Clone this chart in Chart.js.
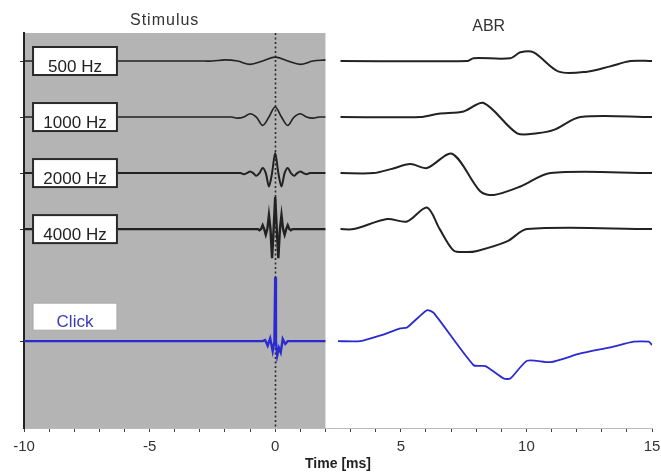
<!DOCTYPE html>
<html><head><meta charset="utf-8">
<script src="https://cdn.jsdelivr.net/npm/chart.js@4.4.1/dist/chart.umd.min.js"></script>
<style>html,body{margin:0;padding:0;background:#fff;}canvas{display:block;}</style>
</head><body>
<canvas id="c" width="661" height="476"></canvas>
<script>
// ---- tick / category data ----
const xMin = -10, xMax = 15, stimEnd = 2;
const xMajorStep = 5;
const yTickValues = [0, 2, 3, 4, 5];
const yMin = -1.55, yMax = 5.5;
const seriesNames = ['500 Hz', '1000 Hz', '2000 Hz', '4000 Hz', 'Click'];
const baselines = [5, 4, 3, 2, 0];
const panelTitles = ['Stimulus', 'ABR'];
const axisTitle = 'Time [ms]';

// ---- stimulus waveforms (time in ms, value in trace units) ----
const stimT500 = [-10, -3, -2.5, -2, -1.5, -1, -0.5, 0, 0.5, 1, 1.5, 2];
const stimY500 = [5, 5, 5, 5.02, 5, 4.94, 5, 5.07, 5, 4.94, 5, 5.02];

const stimT1000 = [-10, -2, -1.75, -1.5, -1.25, -1, -0.75, -0.5, -0.25, 0, 0.25, 0.5, 0.75, 1, 1.25, 1.5, 1.75, 2];
const stimY1000 = [4, 4, 4, 3.98, 4, 4.06, 4, 3.85, 4, 4.18, 4, 3.85, 4, 4.06, 4, 3.98, 4, 4];

const stimT2000 = [-10, -1.5, -1.375, -1.25, -1.125, -1, -0.875, -0.75, -0.625, -0.5, -0.375, -0.25, -0.125, 0, 0.125, 0.25, 0.375, 0.5, 0.625, 0.75, 0.875, 1, 1.125, 1.25, 1.375, 1.5, 2];
const stimY2000 = [3, 3, 3, 2.98, 3, 3.03, 3, 2.95, 3, 3.09, 3, 2.76, 3, 3.36, 3, 2.76, 3, 3.09, 3, 2.95, 3, 3.03, 3, 2.98, 3, 3, 3];

const stimT4000 = [-10, -0.75, -0.6875, -0.625, -0.5625, -0.5, -0.4375, -0.375, -0.3125, -0.25, -0.1875, -0.125, -0.0625, 0, 0.0625, 0.125, 0.1875, 0.25, 0.3125, 0.375, 0.4375, 0.5, 0.5625, 0.625, 0.6875, 0.75, 2];
const stimY4000 = [2, 2, 2, 1.98, 2, 2.07, 2, 1.9, 2, 2.25, 2, 1.48, 2, 2.57, 2, 1.48, 2, 2.25, 2, 1.9, 2, 2.07, 2, 1.98, 2, 2, 2];

const stimTClick = [-10, -0.5, -0.4, -0.3, -0.2, -0.1, -0.03, 0, 0.03, 0.08, 0.15, 0.22, 0.3, 0.4, 0.5, 2];
const stimYClick = [0, 0, 0.02, -0.08, 0.05, -0.18, 0, 1.14, 0, -0.26, -0.12, -0.2, 0.04, -0.05, 0, 0];

// ---- ABR responses ----
const abrT500 = [2.6, 7.64, 7.9, 9.36, 9.76, 10.29, 11.29, 12.42, 13.3, 14.14, 15];
const abrY500 = [5, 5, 5.05, 5.05, 5.155, 5.155, 4.81, 4.81, 4.9, 5, 5];

const abrT1000 = [2.6, 5.78, 6.5, 7.5, 8.3, 9.63, 10.43, 11.09, 12.15, 15];
const abrY1000 = [4, 4, 4.06, 4.1, 4.25, 3.71, 3.71, 3.77, 4, 4];

const abrT2000 = [2.6, 3.92, 4.6, 5.38, 6.04, 7.04, 8.17, 8.7, 9.76, 10.96, 15];
const abrY2000 = [3, 3, 3.07, 3.16, 3.09, 3.345, 2.67, 2.61, 2.76, 3, 3];

const abrT4000 = [2.6, 3.12, 4.45, 5.25, 6.04, 6.55, 7.1, 7.6, 8.04, 9.23, 10.03, 15];
const abrY4000 = [2, 2, 2.18, 2.135, 2.385, 2.0, 1.62, 1.59, 1.61, 1.78, 2, 2];

const abrTClick = [2.5, 3.39, 4.18, 4.98, 5.25, 6.04, 6.31, 7.9, 8.37, 9.1, 9.36, 10.03, 10.96, 12.15, 13.35, 14.27, 14.87, 15];
const abrYClick = [0, 0, 0.1, 0.227, 0.245, 0.553, 0.505, -0.43, -0.446, -0.667, -0.667, -0.35, -0.375, -0.22, -0.11, -0.01, -0.01, -0.07];

// ---- helpers ----
const pts = (t, y) => t.map((v, i) => ({x: v, y: y[i]}));
const BLACK = '#222222', BLUE = '#2a2ad0';
const line = (t, y, color, tension, width) => ({
  data: pts(t, y), borderColor: color, borderWidth: width, pointRadius: 0,
  fill: false, tension: tension
});

const datasets = [
  line(stimT500, stimY500, BLACK, 0.35, 1.6),
  line(stimT1000, stimY1000, BLACK, 0.35, 1.6),
  line(stimT2000, stimY2000, BLACK, 0.3, 2),
  line(stimT4000, stimY4000, BLACK, 0, 2.4),
  line(stimTClick, stimYClick, BLUE, 0, 2.4),
  line(abrT500, abrY500, BLACK, 0.3, 2),
  line(abrT1000, abrY1000, BLACK, 0.3, 2),
  line(abrT2000, abrY2000, BLACK, 0.3, 2),
  line(abrT4000, abrY4000, BLACK, 0.3, 2),
  line(abrTClick, abrYClick, BLUE, 0.2, 1.8)
];

const FONT = '"Liberation Sans", Arial, sans-serif';

const decor = {
  id: 'decor',
  beforeDraw(chart) {
    const {ctx, chartArea: a, scales: {x, y}} = chart;
    ctx.save();
    ctx.fillStyle = '#fff';
    ctx.fillRect(0, 0, chart.width, chart.height);
    ctx.fillStyle = '#b4b4b4';
    const x0 = x.getPixelForValue(xMin), x1 = x.getPixelForValue(stimEnd);
    ctx.fillRect(x0, a.top, x1 - x0, a.bottom - a.top);
    ctx.restore();
  },
  beforeDatasetsDraw(chart) {
    const {ctx, chartArea: a, scales: {x}} = chart;
    ctx.save();
    ctx.strokeStyle = '#2a2a2a';
    ctx.lineWidth = 1.6;
    ctx.setLineDash([2, 2.5]);
    const px = Math.round(x.getPixelForValue(0)) + 0.5;
    ctx.beginPath();
    ctx.moveTo(px, a.top);
    ctx.lineTo(px, a.bottom);
    ctx.stroke();
    ctx.restore();
  },
  afterDatasetsDraw(chart) {
    const {ctx, scales: {x, y}} = chart;
    ctx.save();
    const bx0 = x.getPixelForValue(-9.64), bx1 = x.getPixelForValue(-6.3);
    seriesNames.forEach((name, i) => {
      const yc = y.getPixelForValue(baselines[i]);
      const isClick = name === 'Click';
      const top = isClick ? yc - 38 : yc - 14;
      const h = isClick ? 27 : 28;
      ctx.fillStyle = '#fff';
      ctx.fillRect(bx0, top, bx1 - bx0, h);
      ctx.strokeStyle = isClick ? '#aaa' : '#2a2a2a';
      ctx.lineWidth = isClick ? 1 : 2;
      ctx.strokeRect(bx0, top, bx1 - bx0, h);
      ctx.fillStyle = isClick ? '#3a3ab8' : '#222';
      ctx.font = '17px ' + FONT;
      ctx.textAlign = 'center';
      ctx.textBaseline = 'alphabetic';
      ctx.fillText(name, (bx0 + bx1) / 2, top + h - 3);
    });
    ctx.fillStyle = '#333';
    ctx.font = '16px ' + FONT;
    ctx.textAlign = 'center';
    ctx.textBaseline = 'middle';
    if ('letterSpacing' in ctx) ctx.letterSpacing = '1px';
    ctx.fillText(panelTitles[0], x.getPixelForValue(-4.4), 21);
    if ('letterSpacing' in ctx) ctx.letterSpacing = '0px';
    ctx.fillText(panelTitles[1], x.getPixelForValue(8.5), 27);
    ctx.restore();
  }
};

new Chart(document.getElementById('c'), {
  type: 'line',
  data: {datasets},
  options: {
    responsive: false,
    animation: false,
    devicePixelRatio: 1,
    layout: {padding: {top: 33, right: 9, left: 0, bottom: 3}},
    plugins: {legend: {display: false}, tooltip: {enabled: false}},
    scales: {
      x: {
        type: 'linear', min: xMin, max: xMax,
        afterFit: s => { s.height = 45; s.paddingLeft = 0; s.paddingRight = 0; },
        ticks: {
          stepSize: 1, autoSkip: false, maxRotation: 0, padding: 6,
          color: '#333', font: {family: FONT, size: 15},
          callback: v => (v % xMajorStep === 0 ? String(v) : '')
        },
        grid: {drawOnChartArea: false, drawTicks: true, tickLength: 4, color: '#444'},
        border: {color: '#bbb', width: 1},
        title: {display: true, text: axisTitle, color: '#222', font: {family: FONT, size: 14, weight: 'bold'}, padding: 0}
      },
      y: {
        type: 'linear', min: yMin, max: yMax,
        afterBuildTicks: s => { s.ticks = yTickValues.map(v => ({value: v})); },
        afterFit: s => { s.width = 24; },
        ticks: {display: false},
        grid: {drawOnChartArea: false, drawTicks: true, tickLength: 4, color: '#333'},
        border: {color: '#222', width: 2}
      }
    }
  },
  plugins: [decor]
});
</script>
</body></html>
